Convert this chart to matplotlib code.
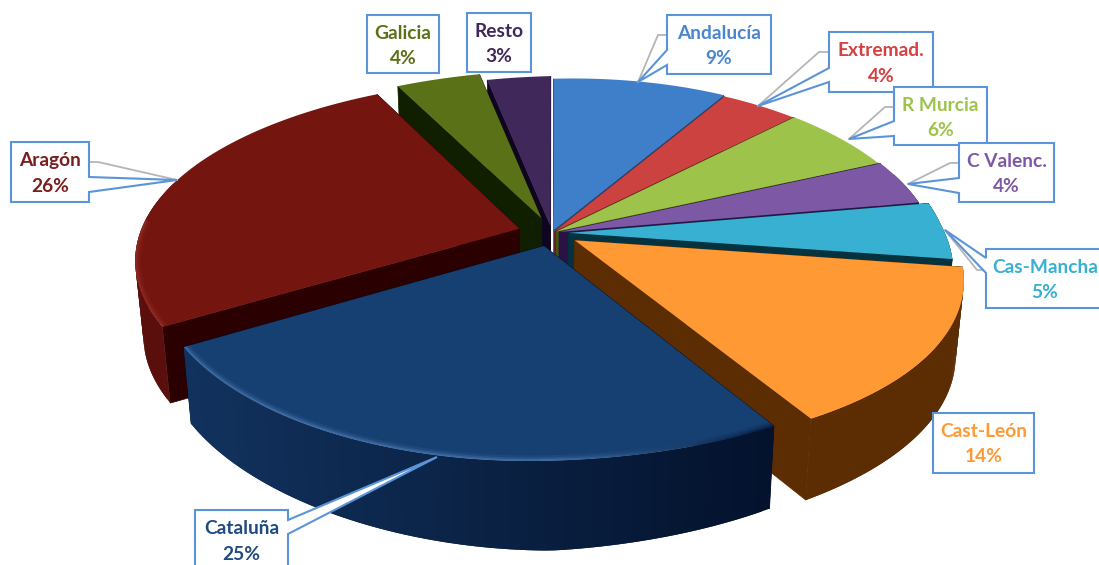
import numpy as np
import matplotlib
matplotlib.use("Agg")
import matplotlib.pyplot as plt
from matplotlib.collections import LineCollection
from matplotlib.colors import to_rgb
from matplotlib.patches import Polygon

# chart data, clockwise from the top
names = ['Andalucía', 'Extremad.', 'R Murcia', 'C Valenc.', 'Cas-Mancha',
         'Cast-León', 'Cataluña', 'Aragón', 'Galicia', 'Resto']
values = [9, 4, 6, 4, 5, 14, 25, 26, 4, 3]

# colours
top_colors = ['#3f7fc9', '#cc4240', '#9dc34b', '#7d59a5', '#38b0d2',
              '#ff9933', '#163f72', '#751510', '#5a7118', '#40295a']
side_colors = ['#1f4f86', '#6e1b1a', '#44560f', '#2a1246', '#04323f',
               '#5c2c03', '#000a20', '#2a0000', '#0f1f00', '#100520']
wall_left = ['#2a5f9e', '#8c2c2a', '#6b8a2c', '#523a78', '#04323f',
             '#5c2c03', '#12335f', '#5a0f0c', '#2c3c08', '#1c0f30']
wall_right = ['#1f4f86', '#6e1b1a', '#44560f', '#2a1246', '#04323f',
              '#5c2c03', '#000a20', '#5a0f0c', '#2c3c08', '#1c0f30']
rim_colors = ['#3f7fc9', '#cc4240', '#9dc34b', '#7d59a5', '#1a7d9a',
              '#5c2c03', '#5f8fc8', '#a03a30', '#5a7118', '#40295a']
label_colors = ['#4a86d0', '#d64040', '#9dc34b', '#7d59a5', '#38b0d2',
                '#ff9933', '#1f4a80', '#7a1f1f', '#5a7118', '#40295a']

# how far each slice is pulled out of the pie
explode = [0.02, 0.012, 0.015, 0.02, 0.045, 0.075, 0.075, 0.09, 0.09, 0.04]
draw_order = [9, 8, 0, 1, 2, 3, 7, 4, 5, 6]

# label boxes: x0, y0, x1, y1
boxes = [(667, 15, 771, 74), (829, 32, 933, 92), (894, 87, 987, 145),
         (959, 143, 1054, 202), (986, 249, 1104, 308), (933, 413, 1034, 473),
         (195, 510, 288, 575), (11, 142, 89, 202), (367, 15, 439, 73),
         (467, 13, 531, 72)]
# pointer tip, wedge on box edge, grey elbow
tips = [(638, 82), (758, 106), (849, 139), (908, 184), (945, 230), None,
        (437, 457), (177, 180), None, None]
wedges = [(50, 65), (68, 82), (121, 136), (178, 193), (258, 273), None,
          (520, 534), (177, 192), None, None]
elbows = [(658, 35), (819, 52), (885, 107), (950, 163), (977, 270), None,
          None, (98, 162), None, None]

CX, CY = 552, 233
B, P = 176, 0.16


def project(u, v):
    u, v = np.asarray(u, float), np.asarray(v, float)
    # the right side of the picture is squeezed more than the left
    px = np.where(u < 0, 0.125, np.where(v > 0, 0.2, 0.24))
    a = np.where(u < 0, 382, 372)
    x = CX + a * u / (1 + px * v)
    y = CY - 8 * u - B * v / (1 + P * v)
    return x, y


def bottom(x, y, u, v):
    return CX + (x - CX) * 0.98, y + 76 + 13 * np.maximum(0, -v) * np.maximum(0, 1 - np.abs(u))


def mix(c1, c2, t):
    return tuple((1 - t) * a + t * b for a, b in zip(to_rgb(c1), to_rgb(c2)))


def draw_slice(ax, i, start, end, z):
    mid = np.radians((start + end) / 2)
    ox, oy = explode[i] * np.sin(mid), explode[i] * np.cos(mid)
    th = np.radians(np.linspace(start, end, 80))
    u = ox + np.sin(th)
    v = oy + np.cos(th)
    x, y = project(u, v)
    bx, by = bottom(x, y, u, v)
    ax0, ay0 = project(ox, oy)
    bax, bay = bottom(ax0, ay0, ox, oy)

    # radial faces
    ax.add_patch(Polygon([(ax0, ay0), (x[0], y[0]), (bx[0], by[0]), (bax, bay)],
                         fc=side_colors[i], ec=side_colors[i], lw=0.5, zorder=z))
    ax.add_patch(Polygon([(ax0, ay0), (x[-1], y[-1]), (bx[-1], by[-1]), (bax, bay)],
                         fc=side_colors[i], ec=side_colors[i], lw=0.5, zorder=z))

    # outer wall, shaded from right to left, overlapping quads to hide seams
    xmin, xmax = CX - 382, CX + 372
    for k in range(len(x) - 1):
        if np.cos(th[k]) > 0.3:
            continue
        t = np.clip((xmax - x[k]) / (xmax - xmin), 0, 1)
        c = mix(wall_right[i], wall_left[i], t)
        k2 = min(k + 2, len(x) - 1)
        ax.add_patch(Polygon([(x[k], y[k]), (x[k2], y[k2]),
                              (bx[k2], by[k2]), (bx[k], by[k])],
                             fc=c, ec='none', zorder=z + 0.1))

    # top face
    top = Polygon(np.r_[[(ax0, ay0)], np.c_[x, y]], fc=top_colors[i],
                  ec='none', zorder=z + 0.2)
    ax.add_patch(top)

    # soft bevel along the front of the rim, fading out on the right
    front = np.where(np.cos(th) < 0.1)[0]
    if len(front) > 1:
        segs = [[(x[k], y[k]), (x[k + 1], y[k + 1])] for k in front[:-1]]
        for lw, al in [(8, 0.12), (5, 0.2), (2.5, 0.35)]:
            cols = []
            for k in front[:-1]:
                fade = np.clip((x[k] - 560) / 200, 0, 1)
                cols.append(mix(rim_colors[i], top_colors[i] if i != 6 else '#00102a', fade) + (al,))
            lc = LineCollection(segs, colors=cols, linewidths=lw, capstyle='butt',
                                zorder=z + 0.3)
            ax.add_collection(lc)
            lc.set_clip_path(top)


def draw_label(ax, i):
    x0, y0, x1, y1 = boxes[i]
    pts = [(x0, y0), (x1, y0), (x1, y1), (x0, y1)]
    if tips[i] is not None:
        tx, ty = tips[i]
        a, b = wedges[i]
        if elbows[i] is not None:
            ex, ey = elbows[i]
            edge_x = x1 if tx > x1 else x0
            ax.plot([tx, ex, edge_x], [ty, ey, ey], color='#b5b5b5', lw=1.3, zorder=20)
        if tx < x0:
            pts = [(x0, y0), (x1, y0), (x1, y1), (x0, y1), (x0, b), (tx, ty), (x0, a)]
        else:
            pts = [(x0, y0), (x1, y0), (x1, a), (tx, ty), (x1, b), (x1, y1), (x0, y1)]
    ax.add_patch(Polygon(pts, fc='white', ec='#5b94d8', lw=1.5, joinstyle='miter', zorder=21))
    cx = (x0 + x1) / 2
    ax.text(cx, y0 + 18.5, names[i], color=label_colors[i], fontsize=13.8,
            fontweight='bold', family='Lato', ha='center', va='center', zorder=22)
    ax.text(cx, y0 + 44, f'{values[i]}%', color=label_colors[i], fontsize=13.8,
            fontweight='bold', family='Lato', ha='center', va='center', zorder=22)


fig = plt.figure(figsize=(10.99, 5.65), dpi=100)
ax = fig.add_axes([0, 0, 1, 1])
ax.set_xlim(0, 1099)
ax.set_ylim(565, 0)
ax.axis('off')

edges = np.r_[0, np.cumsum(values)] * 360 / sum(values)
for z, i in enumerate(draw_order):
    draw_slice(ax, i, edges[i], edges[i + 1], z + 1)

for i in range(len(names)):
    draw_label(ax, i)

fig.savefig('out.png', dpi=100)
